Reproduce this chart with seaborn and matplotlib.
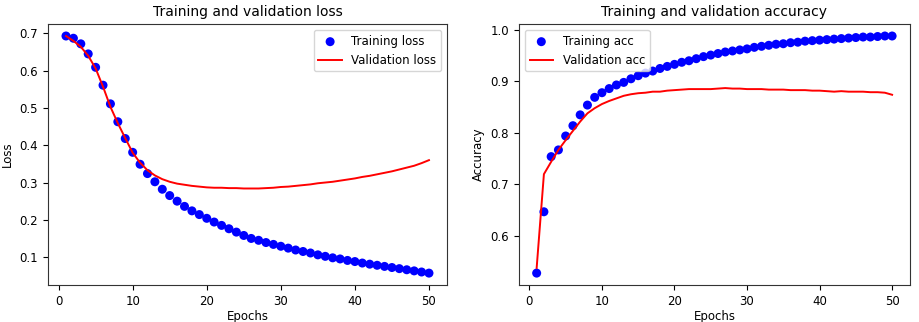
import numpy as np
import pandas as pd
import matplotlib
matplotlib.use("Agg")
import matplotlib.pyplot as plt
import seaborn as sns

epochs = list(range(1, 51))

train_loss = [0.693, 0.687, 0.672, 0.645, 0.609, 0.561, 0.511, 0.463, 0.418, 0.381,
              0.349, 0.324, 0.302, 0.282, 0.265, 0.250, 0.236, 0.224, 0.214, 0.204,
              0.194, 0.185, 0.176, 0.167, 0.158, 0.150, 0.145, 0.139, 0.134, 0.129,
              0.124, 0.119, 0.115, 0.111, 0.106, 0.102, 0.098, 0.095, 0.091, 0.088,
              0.084, 0.081, 0.078, 0.075, 0.072, 0.069, 0.066, 0.063, 0.060, 0.057]

val_loss = [0.693, 0.680, 0.664, 0.640, 0.606, 0.557, 0.503, 0.459, 0.419, 0.380,
            0.353, 0.333, 0.319, 0.309, 0.302, 0.297, 0.294, 0.291, 0.289, 0.287,
            0.286, 0.286, 0.285, 0.285, 0.284, 0.284, 0.284, 0.285, 0.286, 0.288,
            0.289, 0.291, 0.293, 0.295, 0.298, 0.300, 0.302, 0.305, 0.308, 0.311,
            0.315, 0.318, 0.322, 0.326, 0.330, 0.335, 0.340, 0.345, 0.352, 0.360]

train_acc = [0.528, 0.647, 0.754, 0.767, 0.794, 0.814, 0.835, 0.854, 0.869, 0.878,
             0.886, 0.893, 0.898, 0.905, 0.911, 0.916, 0.920, 0.925, 0.929, 0.933,
             0.937, 0.940, 0.944, 0.948, 0.951, 0.954, 0.957, 0.959, 0.961, 0.963,
             0.966, 0.968, 0.970, 0.972, 0.973, 0.975, 0.976, 0.978, 0.979, 0.980,
             0.981, 0.982, 0.983, 0.984, 0.985, 0.986, 0.986, 0.987, 0.988, 0.988]

val_acc = [0.538, 0.720, 0.744, 0.767, 0.786, 0.804, 0.822, 0.838, 0.848, 0.856,
           0.862, 0.867, 0.872, 0.875, 0.877, 0.878, 0.880, 0.880, 0.882, 0.883,
           0.884, 0.885, 0.885, 0.885, 0.885, 0.886, 0.887, 0.886, 0.886, 0.885,
           0.885, 0.885, 0.884, 0.884, 0.884, 0.883, 0.883, 0.883, 0.882, 0.882,
           0.881, 0.880, 0.881, 0.880, 0.880, 0.880, 0.879, 0.879, 0.878, 0.874]

df = pd.DataFrame({"epoch": epochs, "train_loss": train_loss, "val_loss": val_loss,
                   "train_acc": train_acc, "val_acc": val_acc})

plt.rcParams["font.family"] = ["DejaVu Sans"]
plt.rcParams["font.size"] = 8.5

fig = plt.figure(figsize=(9.2, 3.22), dpi=100)
ax1 = fig.add_axes([0.052, 0.115, 0.434, 0.81])
ax2 = fig.add_axes([0.564, 0.115, 0.425, 0.81])

for ax, tcol, vcol, tlab, vlab, title, ylabel, loc in [
    (ax1, "train_loss", "val_loss", "Training loss", "Validation loss",
     "Training and validation loss", "Loss", "upper right"),
    (ax2, "train_acc", "val_acc", "Training acc", "Validation acc",
     "Training and validation accuracy", "Accuracy", "upper left"),
]:
    sns.scatterplot(data=df, x="epoch", y=tcol, ax=ax, color="blue", s=42,
                    edgecolor="none", label=tlab, zorder=2)
    sns.lineplot(data=df, x="epoch", y=vcol, ax=ax, color="red", linewidth=1.4,
                 label=vlab, zorder=3)
    ax.set_title(title, fontsize=10)
    ax.set_xlabel("Epochs", fontsize=8.5, labelpad=2)
    ax.set_ylabel(ylabel, fontsize=8.5)
    ax.set_xticks([0, 10, 20, 30, 40, 50])
    ax.tick_params(labelsize=8.5)
    for sp in ax.spines.values():
        sp.set_color("#333333")
    ax.legend(loc=loc, fontsize=8.5)

fig.savefig("out.png", dpi=100)
